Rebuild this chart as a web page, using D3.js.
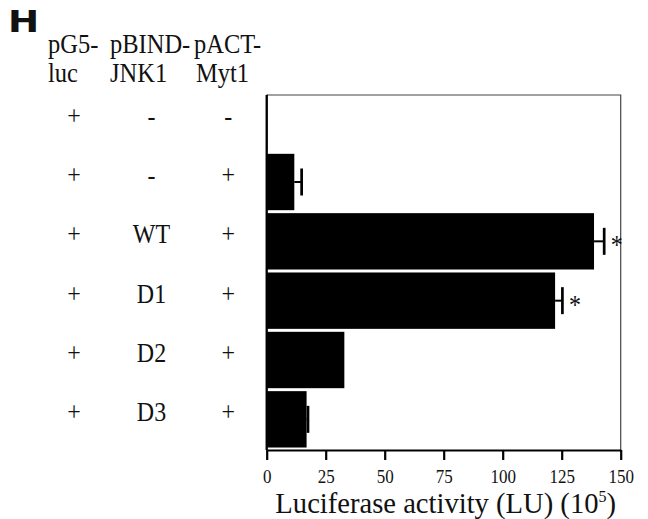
<!DOCTYPE html>
<html>
<head>
<meta charset="utf-8">
<script src="https://cdn.jsdelivr.net/npm/d3@7"></script>
<style>
  body { margin: 0; background: #fff; }
  svg { display: block; }
</style>
</head>
<body>
<div id="space"></div>
<script>
// Declare constants
const WIDTH = 648;
const HEIGHT = 519;
const SERIF = "'Liberation Serif', 'Times New Roman', serif";
const STRETCH = 1.1; // the scanned figure is a bit taller than wide

// Data
const pG5Luc = ["+", "+", "+", "+", "+", "+"];
const pBindJnk1 = ["-", "-", "WT", "D1", "D2", "D3"];
const pActMyt1 = ["-", "+", "+", "+", "+", "+"];
const activity = [0.3, 11.7, 138.7, 122.2, 32.9, 16.9];
const errorUp = [0, 3.1, 4.3, 3.1, 0, 0.6];
const significant = [false, false, true, true, false, false];
const xTicks = [0, 25, 50, 75, 100, 125, 150];
const headers = [
  ["pG5-", "luc"],
  ["pBIND-", "JNK1"],
  ["pACT-", "Myt1"],
];

// Plot area (window.top is reserved, so use other names)
var plotLeft = 266.7;
var plotRight = 620.7;
var plotTop = 95;
var plotBottom = 450;

var rows = d3.range(activity.length);

var svg = d3
  .select("#space")
  .append("svg")
  .attr("width", WIDTH)
  .attr("height", HEIGHT);

var x = d3.scaleLinear().domain([0, 150]).range([plotLeft, plotRight]);

var y = d3
  .scaleBand()
  .domain(rows)
  .range([93, 449])
  .paddingInner(0.05)
  .paddingOuter(0.025);

/**
 * Adds a serif text stretched a little vertically like the scan
 */
function serifText(g, tx, ty, txt, size, anchor, stretch) {
  return g
    .append("text")
    .attr("transform", `translate(${tx},${ty}) scale(1,${stretch || STRETCH})`)
    .attr("font-family", SERIF)
    .attr("font-size", size)
    .attr("text-anchor", anchor || "start")
    .attr("fill", "#111")
    .text(txt);
}

// Panel letter
svg
  .append("text")
  .attr("transform", "translate(8,31.7) scale(1.2,1)")
  .attr("font-family", "'DejaVu Sans', sans-serif")
  .attr("font-weight", "bold")
  .attr("font-size", 31)
  .attr("fill", "#111")
  .text("H");

// Column headers
var headerX = [48, 110, 194];
headers.forEach(function (h, i) {
  serifText(svg, headerX[i], 53.3, h[0], 24.5);
  serifText(svg, headerX[i] + (i == 2 ? 2 : 0), 81.7, h[1], 24.5);
});

// Condition table on the left
var colX = [74, 151.5, 228.3];
[pG5Luc, pBindJnk1, pActMyt1].forEach(function (col, c) {
  col.forEach(function (d, i) {
    serifText(svg, colX[c], y(i) + y.bandwidth() / 2 + 2, d, 24, "middle");
  });
});

// Frame lines on top and right
svg
  .append("path")
  .attr("d", `M${plotLeft},${plotTop}H${plotRight}V${plotBottom}`)
  .attr("fill", "none")
  .attr("stroke", "#444")
  .attr("stroke-width", 1.2);

// Bars
svg
  .selectAll("rect.bar")
  .data(activity)
  .enter()
  .append("rect")
  .attr("class", "bar")
  .attr("x", x(0))
  .attr("y", (d, i) => y(i))
  .attr("width", (d) => x(d) - x(0))
  .attr("height", y.bandwidth())
  .attr("fill", "#000");

// Error bars (upper side only)
var errs = svg
  .selectAll("g.err")
  .data(rows.filter((i) => errorUp[i] > 0))
  .enter()
  .append("g")
  .attr("class", "err");

errs
  .append("line")
  .attr("x1", (i) => x(activity[i]))
  .attr("x2", (i) => x(activity[i] + errorUp[i]))
  .attr("y1", (i) => y(i) + y.bandwidth() / 2)
  .attr("y2", (i) => y(i) + y.bandwidth() / 2)
  .attr("stroke", "#000")
  .attr("stroke-width", 2);

errs
  .append("line")
  .attr("x1", (i) => x(activity[i] + errorUp[i]))
  .attr("x2", (i) => x(activity[i] + errorUp[i]))
  .attr("y1", (i) => y(i) + y.bandwidth() / 2 - 13.5)
  .attr("y2", (i) => y(i) + y.bandwidth() / 2 + 13.5)
  .attr("stroke", "#000")
  .attr("stroke-width", 2.7);

// Significance stars
rows
  .filter((i) => significant[i])
  .forEach(function (i) {
    serifText(
      svg,
      x(activity[i] + errorUp[i]) + 12.5,
      y(i) + y.bandwidth() / 2 + 13,
      "*",
      24,
      "middle"
    );
  });

// Left axis line
svg
  .append("g")
  .attr("transform", `translate(${plotLeft},0)`)
  .call(d3.axisLeft(y).tickValues([]).tickSizeOuter(0))
  .call((g) =>
    g
      .select(".domain")
      .attr("d", `M0,${plotTop}V${plotBottom}`)
      .attr("stroke-width", 2.3)
  );

// Bottom axis
var xAxis = svg
  .append("g")
  .attr("transform", `translate(0,${plotBottom})`)
  .call(d3.axisBottom(x).tickValues(xTicks).tickSize(10).tickSizeOuter(0));

xAxis.select(".domain").attr("stroke-width", 2.2);
xAxis.selectAll(".tick line").attr("stroke-width", 2.2);
xAxis
  .selectAll(".tick text")
  .attr("y", null)
  .attr("dy", null)
  .attr("transform", "translate(0,33) scale(1,1.05)")
  .attr("font-family", SERIF)
  .attr("font-size", 17)
  .attr("fill", "#111");

// Axis title with superscript
var title = serifText(svg, (plotLeft + plotRight) / 2 + 2, 512.8, "", 28.6, "middle", 1);
title.append("tspan").text("Luciferase activity (LU) (10");
title.append("tspan").attr("font-size", 16).attr("dy", -11).text("5");
title.append("tspan").attr("dy", 11).text(")");
</script>
</body>
</html>
